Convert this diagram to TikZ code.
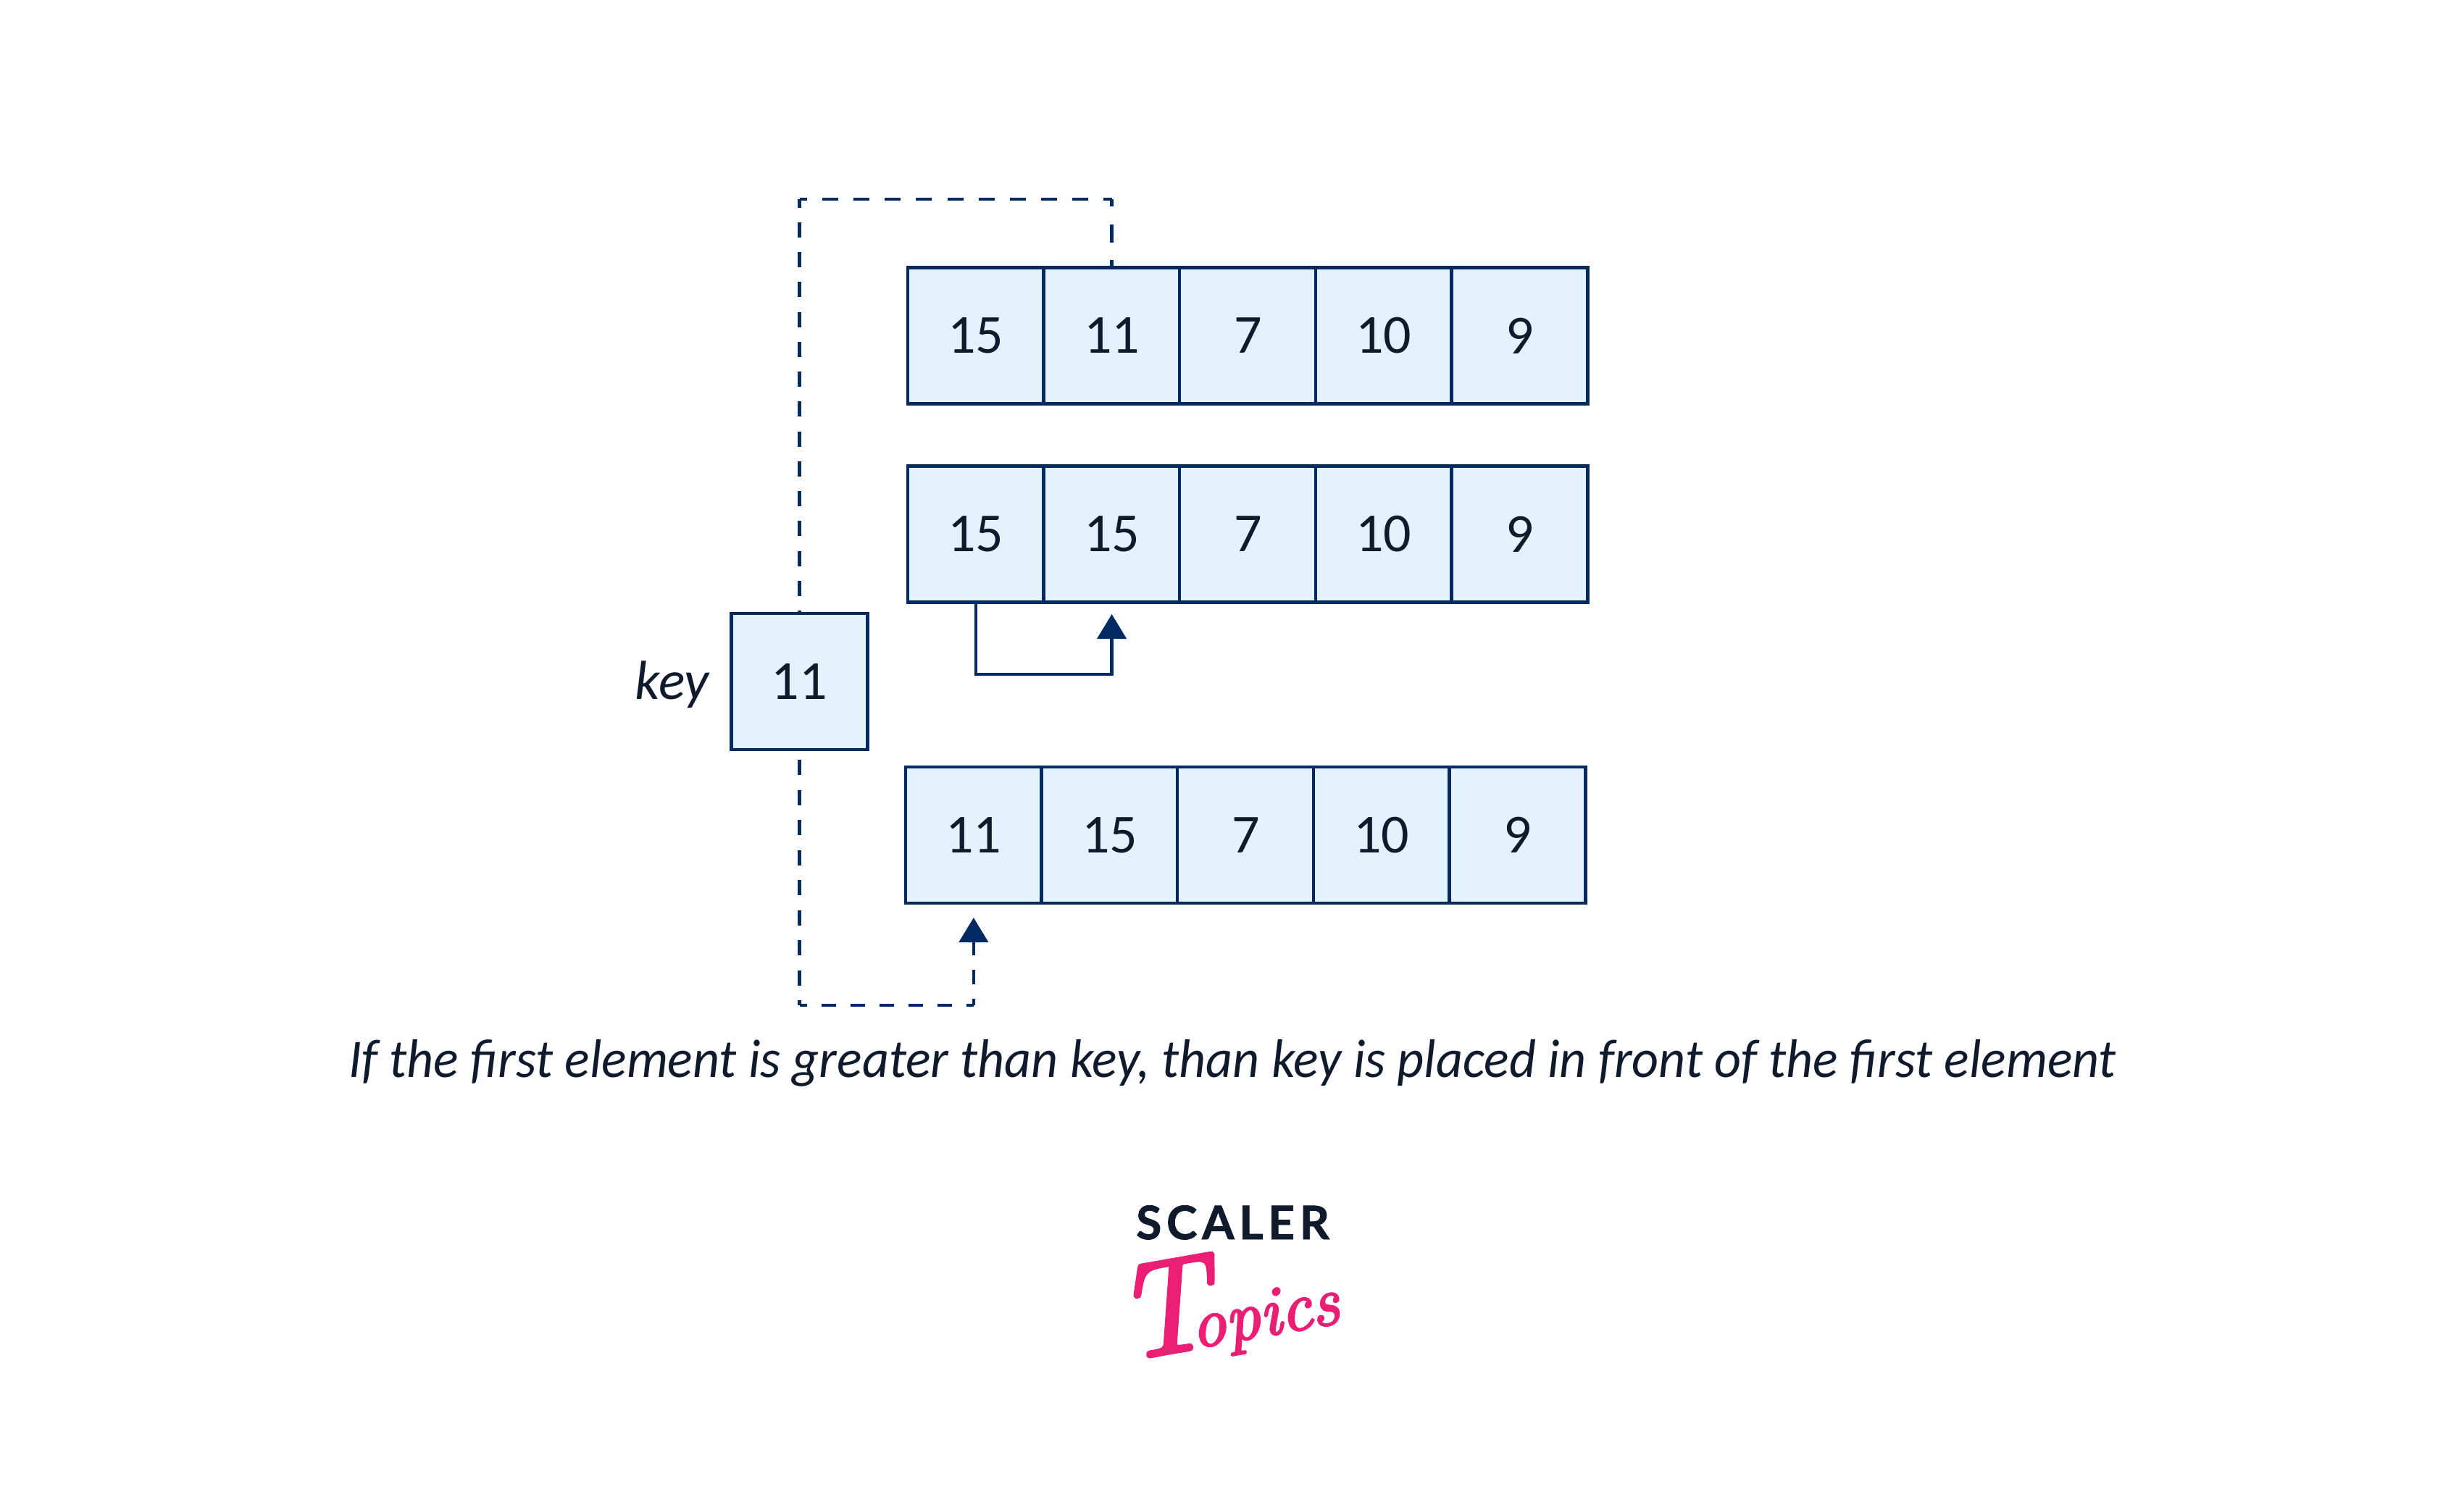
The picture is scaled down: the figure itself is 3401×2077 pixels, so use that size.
\documentclass[tikz,border=0pt]{standalone}
\usepackage{fontspec}
\usetikzlibrary{arrows.meta}
\setmainfont{Carlito}
\newfontfamily\capfont[FakeStretch=0.96]{Carlito}
\newfontfamily\logosans[LetterSpace=10.5,FakeBold=1.2]{Lato}
\newfontfamily\logoscript[FakeBold=3]{Latin Modern Roman}
\definecolor{ink}{HTML}{0F1A2C}
\definecolor{cellfill}{HTML}{E4F2FE}
\definecolor{edge}{HTML}{012A63}
\definecolor{pink}{HTML}{EA1E73}
\tikzset{
  cell/.style={draw=edge,fill=cellfill,line width=4.4pt,minimum size=188pt,inner sep=0pt,outer sep=0pt,text=ink,font=\fontsize{76}{80}\selectfont},
  link/.style={draw=edge,line width=4.4pt},
  dashlink/.style={link,dash pattern=#1},
  head/.style={-{Triangle[length=34pt,width=40pt,fill=edge]}}
}
\begin{document}
\begin{tikzpicture}[x=1pt,y=-1pt]
\useasboundingbox (0,0) rectangle (3401,2077);
% rows
\foreach \i/\t in {0/15,1/11,2/7,3/10,4/9}
  \node[cell,name=ra\i] at ({1346.85+187.7*\i},463.5) {\raisebox{-1.5pt}{\t}};
\foreach \i/\t in {0/15,1/15,2/7,3/10,4/9}
  \node[cell,name=rb\i] at ({1346.85+187.7*\i},737.5) {\raisebox{-1.5pt}{\t}};
\foreach \i/\t in {0/11,1/15,2/7,3/10,4/9}
  \node[cell,name=rc\i] at ({1343.85+187.7*\i},1153) {\raisebox{-1.5pt}{\t}};
\node[cell,name=keybox] at (1103.5,941) {\raisebox{-1.5pt}{11}};
\node[name=keylabel,anchor=base east,inner sep=0pt,text=ink,font=\fontsize{76}{80}\selectfont\itshape] at (979,965) {key};
% corner points
\coordinate (topleft) at (keybox.north |- 0,275);
\coordinate (topright) at (ra1.north |- 0,275);
\coordinate (botleft) at (keybox.south |- 0,1388);
\coordinate (botright) at (rc0.south |- 0,1388);
\coordinate (swaplow) at (1346.85,931);
\coordinate (swapturn) at (rb1.south |- 0,931);
\coordinate (swaptip) at (rb1.south |- 0,848);
\coordinate (placetip) at (rc0.south |- 0,1267);
% dashed path key to row 1
\draw[dashlink={on 21pt off 20.25pt},dash phase=17pt] (keybox.north) -- (topleft);
\draw[dashlink={on 22pt off 21.1pt},dash phase=11.5pt] (topleft) -- (topright);
\draw[dashlink={on 10pt off 25pt on 25pt off 24pt on 11pt}] (topright) -- (ra1.north);
% solid shift arrow
\draw[link,head] (rb0.south) -- (swaplow) -- (swapturn) -- (swaptip);
% dashed path key to row 3
\draw[dashlink={on 21pt off 20.5pt},dash phase=27.5pt] (keybox.south) -- (botleft);
\draw[dashlink={on 20.5pt off 19.5pt},dash phase=10pt] (botleft) -- (botright);
\draw[dashlink={on 9.5pt off 20pt on 20pt off 20pt on 20pt off 20pt},head] (botright) -- (placetip);
% caption
\node[name=caption,anchor=base west,inner sep=0pt,text=ink,font=\capfont\fontsize{75}{80}\selectfont\itshape] at (481,1487)
  {If the first element is greater than key, than key is placed in front of the first element};
% logo
\node[name=logoa,anchor=base west,inner sep=0pt,text=ink,font=\logosans\bfseries\fontsize{64}{66}\selectfont] at (1568,1711) {SCALER};
\node[name=logob,anchor=center,inner sep=0pt,rotate=10,text=pink,font=\logoscript\itshape] at (1692,1800)
  {\fontsize{185}{185}\selectfont T\kern-30pt\fontsize{96}{96}\selectfont opics};
\end{tikzpicture}
\end{document}
